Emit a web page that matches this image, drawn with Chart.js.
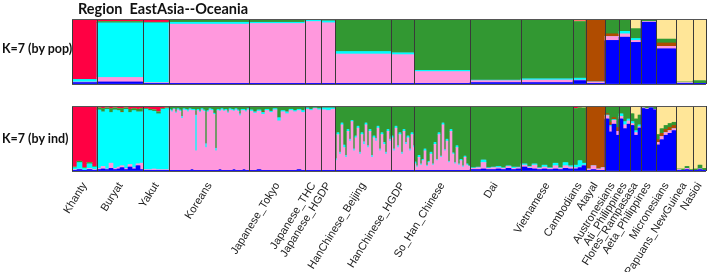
<!DOCTYPE html>
<html>
<head>
<meta charset="utf-8">
<script src="https://cdn.jsdelivr.net/npm/chart.js@4.4.1/dist/chart.umd.min.js"></script>
<style>
    body { margin: 0; background: #fff; }
    #wrapper { position: relative; width: 707px; height: 272px; overflow: hidden; }
    canvas { position: absolute; left: 0; }
    #cnvPop { top: 0; }
    #cnvInd { top: 100px; }
    .lbl { position: absolute; font-family: Lato, sans-serif; font-weight: bold; color: #111; white-space: pre; }
    #title { left: 78px; top: 0; font-size: 14.5px; line-height: 17px; }
    #lblPop { left: 2px; top: 41px; font-size: 12.5px; line-height: 16px; }
    #lblInd { left: 2px; top: 131px; font-size: 12.5px; line-height: 16px; }
</style>
</head>
<body>
<div id="wrapper">
    <canvas id="cnvPop" width="707" height="86"></canvas>
    <canvas id="cnvInd" width="707" height="172"></canvas>
    <div class="lbl" id="title">Region  EastAsia--Oceania</div>
    <div class="lbl" id="lblPop">K=7 (by pop)</div>
    <div class="lbl" id="lblInd">K=7 (by ind)</div>
</div>
<script>
"use strict"

const pops = ["Khanty", "Buryat", "Yakut", "Koreans", "Japanese_Tokyo", "Japanese_THC", "Japanese_HGDP",
    "HanChinese_Beijing", "HanChinese_HGDP", "So_Han_Chinese", "Dai", "Vietnamese", "Cambodians", "Atayal",
    "Austronesians", "Ati_Philippines", "Flores_Rampasasa", "Aeta_Philippines", "Micronesians",
    "Papuans_NewGuinea", "Nasioi"];
// relative sample size of every population (= block width in the plot)
const popSizes = [25, 46, 26, 80, 56, 16, 14, 56, 23, 56, 51, 52, 13, 19, 14, 11, 11, 15, 20, 17, 13];

// clusters, bottom to top of the stack
const clusters = ["K1", "K2", "K3", "K4", "K5", "K6", "K7"];
const clusterColors = ["#0000ff", "#ff99dd", "#00ffff", "#b04c00", "#339933", "#ffe699", "#ff0044"];

// K=7 by pop: mean ancestry of each population
const popBlue   = [0.02, 0.03, 0.01, 0.01, 0.01, 0.01, 0.01, 0.01, 0.01, 0.01, 0.02, 0.02, 0.05, 0.01, 0.67, 0.72, 0.64, 0.95, 0.54, 0.01, 0.01];
const popPink   = [0.01, 0.07, 0.01, 0.91, 0.92, 0.95, 0.93, 0.45, 0.44, 0.18, 0.03, 0.04, 0.01, 0.02, 0.06, 0.05, 0.03, 0.01, 0.04, 0.01, 0.00];
const popCyan   = [0.04, 0.84, 0.92, 0.03, 0.02, 0.02, 0.03, 0.04, 0.03, 0.02, 0.01, 0.02, 0.03, 0.00, 0.00, 0.04, 0.03, 0.00, 0.00, 0.00, 0.00];
const popBrown  = [0.00, 0.00, 0.00, 0.00, 0.00, 0.00, 0.00, 0.00, 0.00, 0.00, 0.00, 0.00, 0.00, 0.96, 0.04, 0.00, 0.00, 0.00, 0.05, 0.00, 0.00];
const popGreen  = [0.00, 0.02, 0.01, 0.04, 0.04, 0.02, 0.03, 0.49, 0.50, 0.78, 0.93, 0.91, 0.87, 0.01, 0.22, 0.18, 0.15, 0.04, 0.06, 0.01, 0.04];
const popYellow = [0.00, 0.00, 0.00, 0.00, 0.00, 0.00, 0.00, 0.00, 0.00, 0.00, 0.00, 0.00, 0.01, 0.00, 0.00, 0.00, 0.15, 0.00, 0.29, 0.97, 0.95];
const popRed    = [0.93, 0.04, 0.05, 0.01, 0.01, 0.00, 0.00, 0.01, 0.02, 0.01, 0.01, 0.01, 0.03, 0.00, 0.01, 0.01, 0.00, 0.00, 0.02, 0.00, 0.00];

// K=7 by ind: individual profiles [blue, pink, cyan, brown, green, yellow, red], left to right
const indKhanty = [[0.01,0.01,0.03,0,0.01,0,0.94], [0.02,0.01,0.10,0,0.02,0,0.85], [0.01,0,0.03,0,0.01,0,0.95],
    [0.02,0.02,0.07,0,0.02,0,0.87], [0.01,0.01,0.04,0,0.01,0,0.93]];
const indBuryat = [[0.02,0.02,0.90,0,0.03,0,0.03], [0.03,0.04,0.84,0,0.05,0,0.04], [0.02,0.01,0.92,0,0.02,0,0.03],
    [0.04,0.08,0.78,0,0.06,0,0.04], [0.02,0.02,0.90,0,0.03,0,0.03], [0.03,0.03,0.87,0,0.03,0,0.04],
    [0.05,0.03,0.82,0.01,0.05,0,0.04], [0.02,0.02,0.91,0,0.02,0,0.03], [0.06,0.04,0.80,0,0.05,0,0.05],
    [0.03,0.02,0.88,0,0.03,0,0.04], [0.08,0.03,0.80,0,0.04,0,0.05], [0.02,0.10,0.79,0,0.05,0,0.04]];
const indYakut = [[0.01,0.01,0.93,0,0.01,0,0.04], [0.01,0.01,0.91,0,0.02,0,0.05], [0.01,0.02,0.89,0,0.02,0,0.06],
    [0.01,0.01,0.86,0,0.03,0,0.09], [0.01,0.01,0.93,0,0.01,0,0.04], [0.01,0.01,0.94,0,0.01,0,0.03]];
const indKoreans = [[0.01,0.92,0.02,0,0.04,0,0.01], [0.01,0.90,0.02,0,0.06,0,0.01], [0.01,0.94,0.01,0,0.03,0,0.01],
    [0.01,0.88,0.02,0,0.08,0,0.01], [0.01,0.93,0.02,0,0.03,0,0.01], [0.01,0.91,0.02,0,0.05,0,0.01],
    [0.01,0.80,0.03,0,0.15,0,0.01], [0.01,0.93,0.02,0,0.03,0,0.01], [0.01,0.92,0.02,0,0.04,0,0.01],
    [0.01,0.90,0.03,0,0.05,0,0.01], [0.01,0.93,0.02,0,0.03,0,0.01], [0.02,0.91,0.02,0,0.04,0,0.01],
    [0.01,0.92,0.02,0,0.04,0,0.01], [0.01,0.30,0.55,0,0.13,0,0.01], [0.01,0.92,0.02,0,0.04,0,0.01],
    [0.01,0.89,0.02,0,0.07,0,0.01], [0.01,0.93,0.02,0,0.03,0,0.01], [0.01,0.91,0.02,0,0.05,0,0.01],
    [0.01,0.35,0.06,0,0.57,0,0.01], [0.01,0.90,0.02,0,0.06,0,0.01], [0.01,0.93,0.02,0,0.03,0,0.01],
    [0.01,0.92,0.02,0,0.04,0,0.01], [0.01,0.86,0.02,0,0.10,0,0.01], [0.01,0.30,0.04,0,0.64,0,0.01],
    [0.01,0.92,0.02,0,0.04,0,0.01], [0.02,0.90,0.02,0,0.05,0,0.01], [0.01,0.93,0.02,0,0.03,0,0.01],
    [0.01,0.91,0.02,0,0.05,0,0.01], [0.01,0.92,0.02,0,0.04,0,0.01], [0.01,0.88,0.02,0,0.08,0,0.01],
    [0.01,0.93,0.02,0,0.03,0,0.01], [0.01,0.92,0.02,0,0.04,0,0.01], [0.02,0.90,0.02,0,0.05,0,0.01],
    [0.01,0.93,0.02,0,0.03,0,0.01], [0.01,0.91,0.02,0,0.05,0,0.01], [0.01,0.84,0.03,0,0.11,0,0.01],
    [0.01,0.92,0.02,0,0.04,0,0.01], [0.02,0.91,0.02,0,0.04,0,0.01], [0.01,0.90,0.02,0,0.06,0,0.01],
    [0.01,0.93,0.02,0,0.03,0,0.01]];
const indJapTokyo = [[0.01,0.91,0.02,0,0.05,0,0.01], [0.01,0.88,0.02,0.01,0.07,0,0.01], [0.02,0.90,0.02,0,0.05,0,0.01],
    [0.01,0.86,0.03,0.01,0.08,0,0.01], [0.01,0.92,0.02,0,0.04,0,0.01], [0.01,0.89,0.02,0,0.07,0,0.01],
    [0.01,0.93,0.02,0,0.03,0,0.01], [0.01,0.76,0.05,0,0.17,0,0.01], [0.01,0.90,0.02,0,0.06,0,0.01],
    [0.01,0.87,0.03,0.01,0.07,0,0.01], [0.01,0.92,0.02,0,0.04,0,0.01], [0.01,0.90,0.02,0,0.06,0,0.01],
    [0.02,0.91,0.02,0,0.04,0,0.01], [0.01,0.89,0.03,0,0.06,0,0.01]];
const indJapTHC = [[0.01,0.94,0.02,0,0.03,0,0], [0.01,0.92,0.02,0,0.05,0,0], [0.01,0.95,0.01,0,0.03,0,0], [0.01,0.93,0.02,0,0.04,0,0]];
const indJapHGDP = [[0.01,0.93,0.03,0,0.03,0,0], [0.01,0.92,0.04,0,0.03,0,0], [0.01,0.94,0.02,0,0.03,0,0]];
const indHanBeijing = [[0.01,0.15,0.03,0,0.80,0,0.01], [0.01,0.55,0.03,0,0.40,0,0.01], [0.01,0.25,0.03,0,0.70,0,0.01],
    [0.01,0.70,0.03,0,0.25,0,0.01], [0.01,0.35,0.04,0,0.59,0,0.01], [0.01,0.20,0.03,0,0.75,0,0.01],
    [0.01,0.60,0.03,0,0.35,0,0.01], [0.01,0.45,0.03,0,0.50,0,0.01], [0.01,0.75,0.02,0,0.21,0,0.01],
    [0.01,0.30,0.03,0,0.65,0,0.01], [0.01,0.50,0.03,0,0.45,0,0.01], [0.01,0.65,0.03,0,0.30,0,0.01],
    [0.01,0.25,0.03,0,0.70,0,0.01], [0.01,0.55,0.03,0,0.40,0,0.01], [0.01,0.40,0.04,0,0.54,0,0.01],
    [0.01,0.70,0.03,0,0.25,0,0.01], [0.01,0.35,0.03,0,0.60,0,0.01], [0.01,0.60,0.03,0,0.35,0,0.01],
    [0.01,0.20,0.03,0,0.75,0,0.01], [0.01,0.50,0.03,0,0.45,0,0.01], [0.01,0.45,0.04,0,0.49,0,0.01],
    [0.01,0.65,0.03,0,0.30,0,0.01], [0.01,0.30,0.03,0,0.65,0,0.01], [0.01,0.55,0.03,0,0.40,0,0.01],
    [0.01,0.40,0.03,0,0.55,0,0.01], [0.01,0.25,0.03,0,0.70,0,0.01], [0.01,0.60,0.03,0,0.35,0,0.01],
    [0.01,0.45,0.03,0,0.50,0,0.01]];
const indHanHGDP = [[0.01,0.50,0.03,0,0.44,0,0.02], [0.01,0.30,0.03,0,0.64,0,0.02], [0.01,0.65,0.03,0,0.29,0,0.02],
    [0.01,0.35,0.03,0,0.59,0,0.02], [0.01,0.55,0.03,0,0.39,0,0.02], [0.01,0.25,0.03,0,0.69,0,0.02],
    [0.01,0.60,0.03,0,0.34,0,0.02], [0.01,0.40,0.03,0,0.54,0,0.02], [0.01,0.50,0.03,0,0.44,0,0.02],
    [0.01,0.30,0.03,0,0.64,0,0.02], [0.01,0.55,0.03,0,0.39,0,0.02], [0.01,0.35,0.03,0,0.59,0,0.02]];
const indSoHan = [[0.01,0.10,0.03,0,0.85,0,0.01], [0.01,0.05,0.02,0,0.91,0,0.01], [0.01,0.20,0.03,0,0.75,0,0.01],
    [0.01,0.08,0.02,0,0.88,0,0.01], [0.01,0.15,0.02,0,0.81,0,0.01], [0.01,0.30,0.03,0,0.65,0,0.01],
    [0.01,0.06,0.02,0,0.90,0,0.01], [0.01,0.12,0.02,0,0.84,0,0.01], [0.01,0.25,0.03,0,0.70,0,0.01],
    [0.01,0.08,0.02,0,0.88,0,0.01], [0.01,0.40,0.03,0,0.55,0,0.01], [0.01,0.15,0.02,0,0.81,0,0.01],
    [0.01,0.55,0.03,0,0.40,0,0.01], [0.01,0.20,0.02,0,0.76,0,0.01], [0.01,0.70,0.03,0,0.25,0,0.01],
    [0.01,0.30,0.02,0,0.66,0,0.01], [0.01,0.45,0.03,0,0.50,0,0.01], [0.01,0.12,0.02,0,0.84,0,0.01],
    [0.01,0.60,0.03,0,0.35,0,0.01], [0.01,0.25,0.02,0,0.71,0,0.01], [0.01,0.10,0.02,0,0.86,0,0.01],
    [0.01,0.35,0.03,0,0.60,0,0.01], [0.01,0.08,0.02,0,0.88,0,0.01], [0.01,0.15,0.02,0,0.81,0,0.01],
    [0.01,0.05,0.02,0,0.91,0,0.01], [0.01,0.20,0.02,0,0.76,0,0.01], [0.01,0.08,0.02,0,0.88,0,0.01],
    [0.01,0.06,0.01,0,0.91,0,0.01]];
const indDai = [[0.02,0.02,0.01,0,0.94,0,0.01], [0.02,0.03,0.01,0,0.93,0,0.01], [0.03,0.10,0.04,0,0.82,0,0.01],
    [0.02,0.02,0.01,0,0.94,0,0.01], [0.02,0.03,0.01,0,0.93,0,0.01], [0.03,0.02,0.02,0,0.92,0,0.01],
    [0.02,0.02,0.01,0,0.94,0,0.01], [0.04,0.03,0.01,0,0.91,0,0.01], [0.02,0.02,0.02,0,0.93,0,0.01],
    [0.03,0.02,0.01,0,0.93,0,0.01]];
const indVietnamese = [[0.06,0.03,0.02,0,0.88,0,0.01], [0.04,0.02,0.01,0,0.92,0,0.01], [0.03,0.06,0.02,0,0.88,0,0.01],
    [0.02,0.02,0.01,0,0.94,0,0.01], [0.03,0.03,0.03,0,0.90,0,0.01], [0.02,0.02,0.01,0,0.94,0,0.01],
    [0.03,0.05,0.04,0,0.87,0,0.01], [0.02,0.02,0.01,0,0.94,0,0.01], [0.04,0.04,0.05,0,0.86,0,0.01],
    [0.03,0.03,0.02,0,0.91,0,0.01]];
const indCambodians = [[0.03,0.02,0.04,0,0.87,0,0.04], [0.05,0.01,0.10,0,0.81,0,0.03], [0.08,0.01,0.03,0,0.85,0.01,0.02]];
const indAtayal = [[0.01,0.02,0,0.96,0.01,0,0], [0.02,0.06,0,0.90,0.02,0,0], [0.01,0.02,0,0.96,0.01,0,0], [0.01,0.04,0,0.93,0.02,0,0]];
const indAustronesians = [[0.80,0.05,0.01,0.02,0.12,0,0], [0.60,0.08,0.02,0.05,0.25,0,0], [0.72,0.06,0.01,0.03,0.18,0,0],
    [0.55,0.06,0,0.06,0.32,0,0.01]];
const indAti = [[0.80,0.04,0.04,0,0.12,0,0], [0.65,0.06,0.05,0,0.23,0,0.01], [0.72,0.05,0.03,0,0.19,0,0.01]];
const indFlores = [[0.70,0.03,0.03,0,0.12,0.12,0], [0.55,0.04,0.03,0,0.18,0.20,0], [0.66,0.02,0.03,0,0.15,0.14,0]];
const indAeta = [[0.96,0.01,0,0,0.02,0.01,0], [0.95,0.01,0,0,0.03,0.01,0], [0.97,0,0,0,0.02,0.01,0], [0.94,0.01,0,0,0.04,0.01,0]];
const indMicronesians = [[0.40,0.04,0,0.04,0.08,0.42,0.02], [0.48,0.05,0,0.05,0.07,0.33,0.02], [0.55,0.04,0,0.05,0.06,0.28,0.02],
    [0.58,0.04,0,0.05,0.06,0.25,0.02], [0.62,0.03,0,0.05,0.05,0.23,0.02]];
const indPapuans = [[0.01,0.01,0,0,0.01,0.97,0], [0.01,0,0,0,0.02,0.97,0], [0.02,0.02,0,0,0.03,0.93,0], [0.01,0,0,0,0.01,0.98,0]];
const indNasioi = [[0.01,0,0,0,0.02,0.97,0], [0.02,0.01,0,0,0.06,0.91,0], [0.01,0,0,0,0.03,0.96,0]];

const popMeans = [popBlue, popPink, popCyan, popBrown, popGreen, popYellow, popRed];
const indData = [indKhanty, indBuryat, indYakut, indKoreans, indJapTokyo, indJapTHC, indJapHGDP, indHanBeijing,
    indHanHGDP, indSoHan, indDai, indVietnamese, indCambodians, indAtayal, indAustronesians, indAti, indFlores,
    indAeta, indMicronesians, indPapuans, indNasioi];

// one category per plotted column
let unitPop = [];
let unitPos = [];
let labelIdx = [];
let boundIdx = [];
let start = 0;
for (let p = 0; p < pops.length; p++) {
    boundIdx.push(start);
    for (let j = 0; j < popSizes[p]; j++) {
        unitPop.push(p);
        unitPos.push(j);
    }
    labelIdx.push(start + Math.floor(popSizes[p] / 2));
    start += popSizes[p];
}

function normalize(row) {
    let tot = row.reduce((a, b) => a + b, 0);
    return row.map(v => v / tot);
}

function datasetsByPop() {
    let rows = pops.map((name, p) => normalize(popMeans.map(arr => arr[p])));
    return makeDatasets(unitPop.map(p => rows[p]));
}

function datasetsByInd() {
    let rows = unitPop.map((p, u) => {
        let ind = indData[p];
        return normalize(ind[Math.floor(unitPos[u] * ind.length / popSizes[p])]);
    });
    return makeDatasets(rows);
}

function makeDatasets(rows) {
    return clusters.map((c, k) => ({
        label: c,
        data: rows.map(r => r[k]),
        backgroundColor: clusterColors[k],
        borderWidth: 0,
        barPercentage: 1,
        categoryPercentage: 1,
        stack: "q"
    }));
}

function makeOptions(withLabels) {
    return {
        responsive: false,
        animation: false,
        devicePixelRatio: 1,
        layout: { padding: { left: 72, right: 1, top: withLabels ? 6 : 19, bottom: withLabels ? 0 : 2 } },
        plugins: { legend: { display: false }, tooltip: { enabled: false }, title: { display: false } },
        scales: {
            x: {
                stacked: true,
                border: { display: false },
                grid: {
                    z: 1,
                    drawTicks: false,
                    color: ctx => (ctx.type !== "tick" || boundIdx.includes(ctx.index)) ? "#3a3a3a" : "rgba(0,0,0,0)",
                    lineWidth: ctx => (ctx.type !== "tick" || boundIdx.includes(ctx.index)) ? 1 : 0
                },
                ticks: {
                    display: withLabels,
                    autoSkip: false,
                    minRotation: 58,
                    maxRotation: 58,
                    padding: 9,
                    color: "#222",
                    font: { family: "'Liberation Sans', Arial, sans-serif", size: 11 },
                    callback: (val, idx) => labelIdx.includes(idx) ? pops[unitPop[idx]] : ""
                },
                afterFit: scale => {
                    scale.paddingLeft = 0;
                    scale.paddingRight = 0;
                    if (withLabels) scale.height = 101;
                }
            },
            y: {
                stacked: true,
                min: 0,
                max: 1,
                border: { display: false },
                grid: { z: 1, drawTicks: false, color: "#555" },
                ticks: { display: false, stepSize: 1 }
            }
        }
    };
}

new Chart(document.getElementById("cnvPop"), {
    type: "bar",
    data: { labels: unitPop.map(p => pops[p]), datasets: datasetsByPop() },
    options: makeOptions(false)
});

new Chart(document.getElementById("cnvInd"), {
    type: "bar",
    data: { labels: unitPop.map(p => pops[p]), datasets: datasetsByInd() },
    options: makeOptions(true)
});
</script>
</body>
</html>
